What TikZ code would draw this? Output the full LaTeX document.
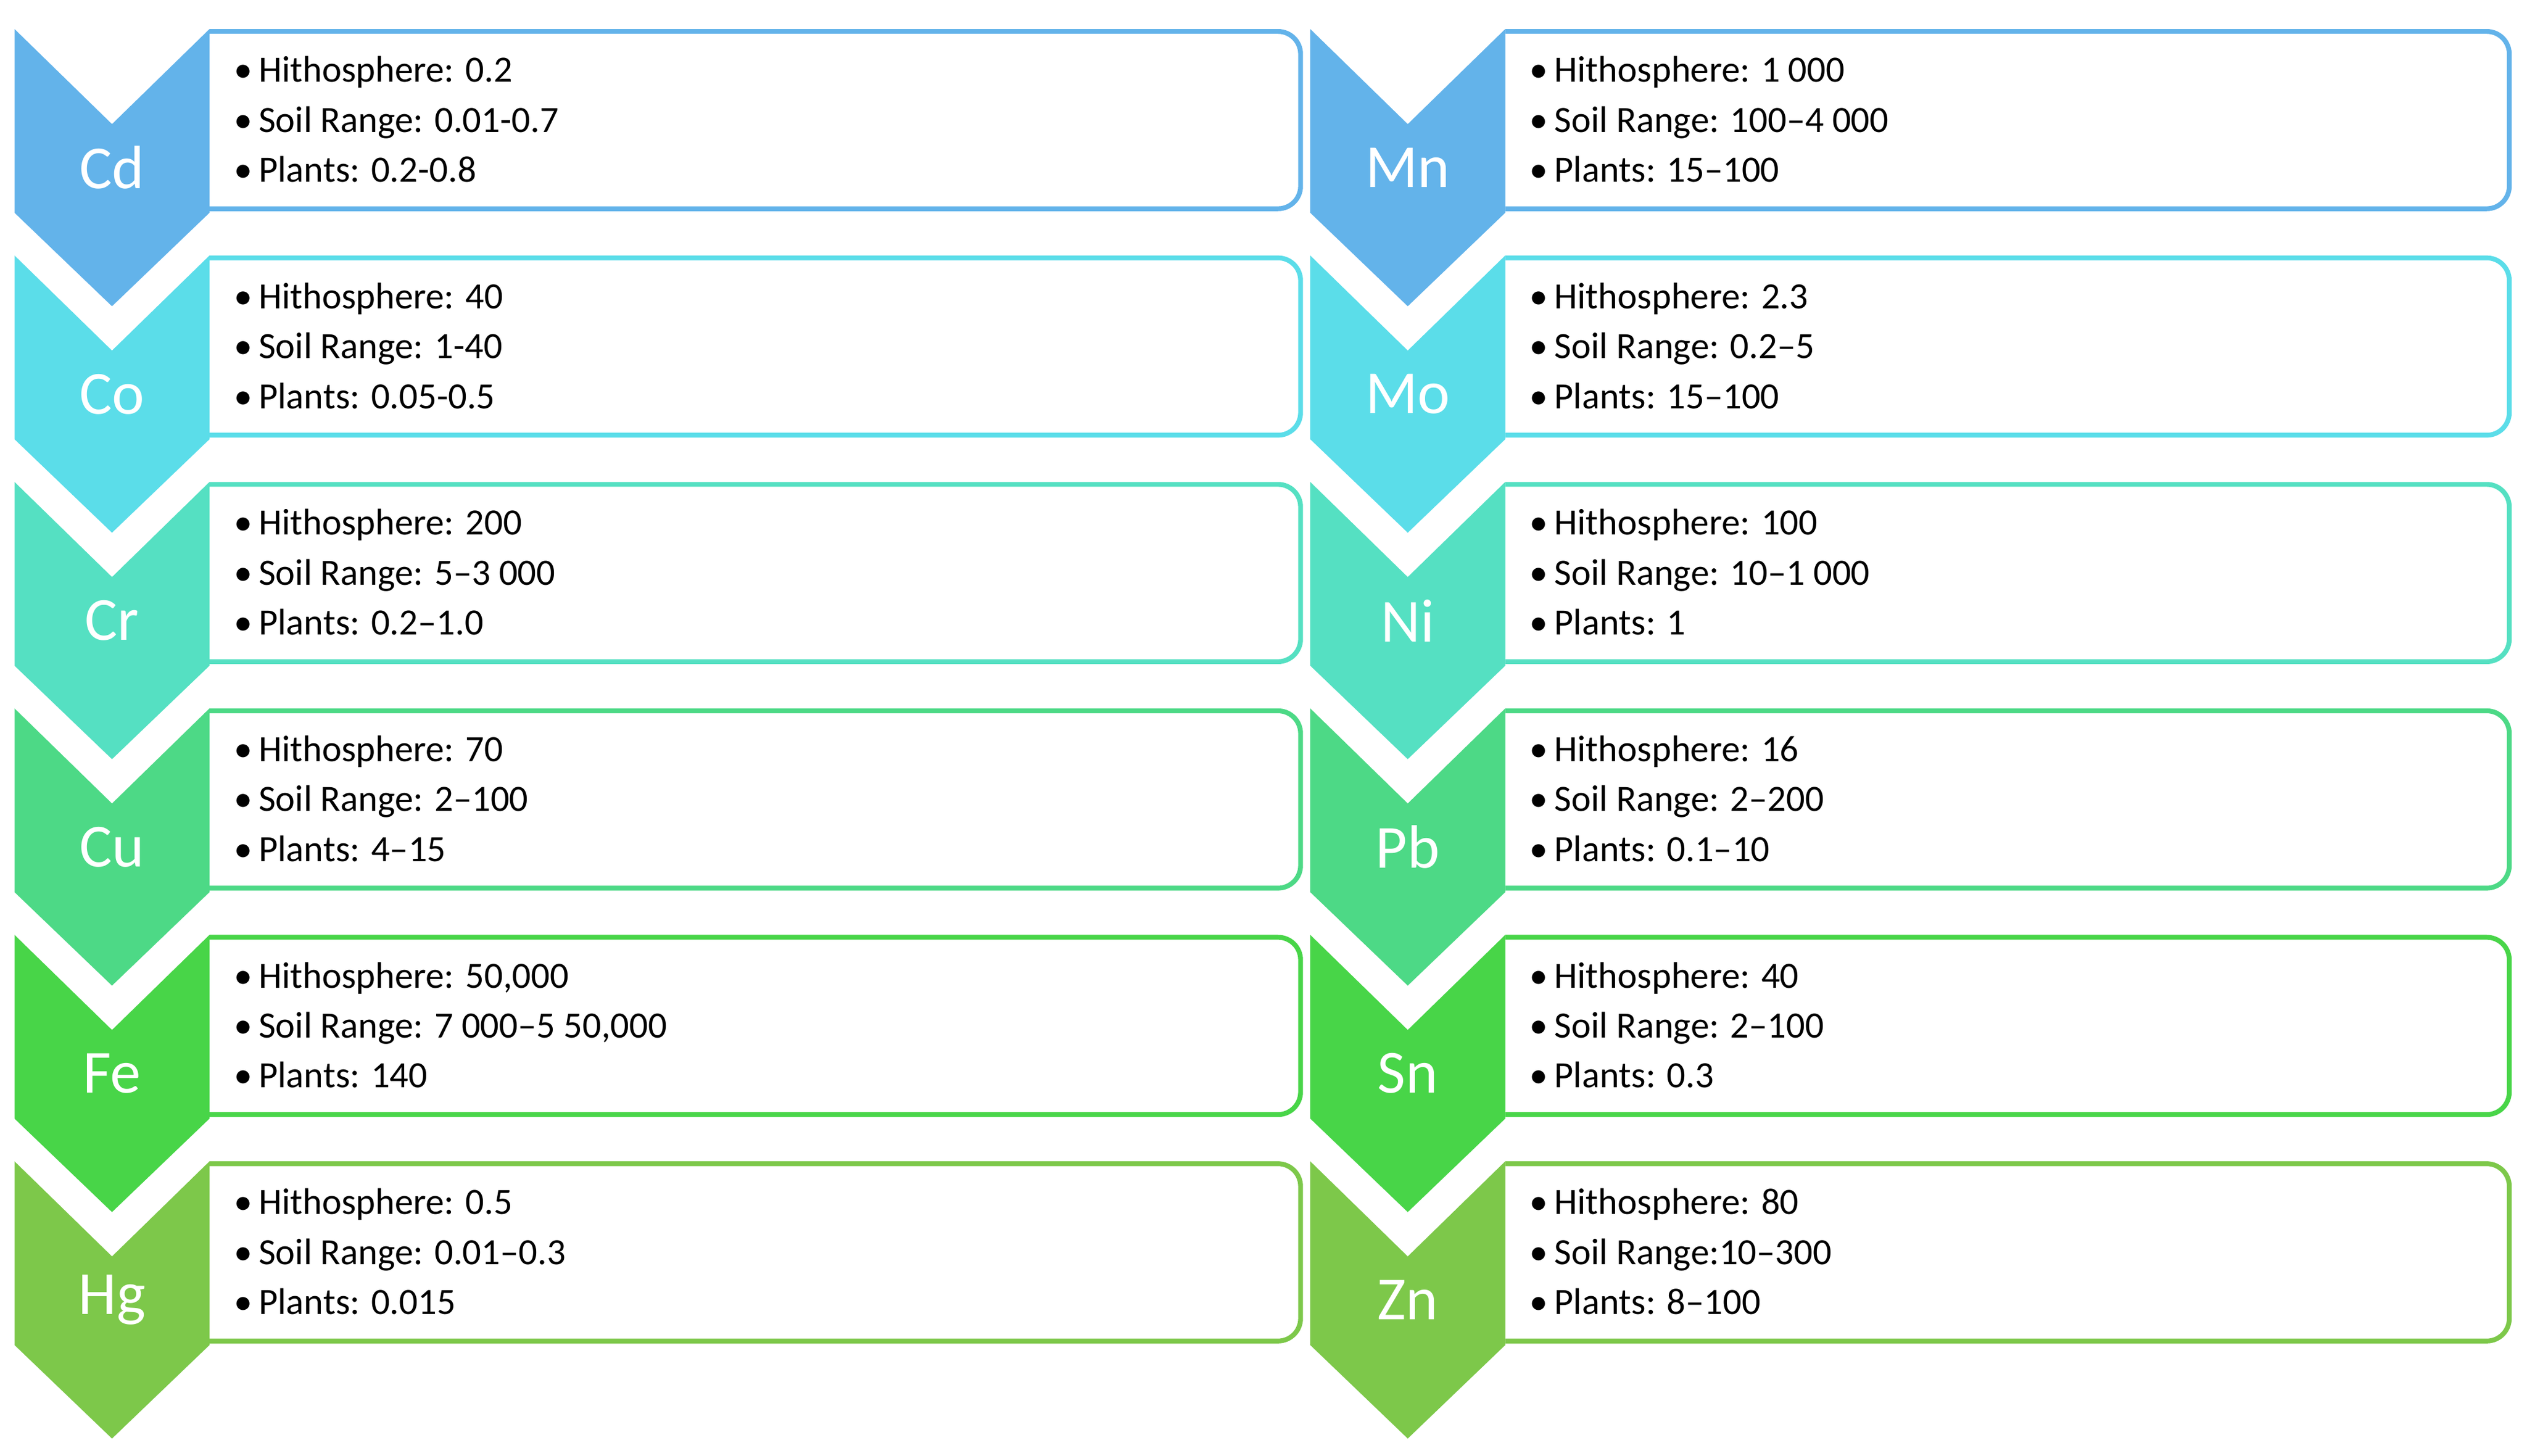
\documentclass[tikz,border=0pt]{standalone}
\usepackage{fontspec}
\setmainfont{Carlito}
\definecolor{c1}{HTML}{63B3EA}
\definecolor{c2}{HTML}{5BDDE9}
\definecolor{c3}{HTML}{55E0C2}
\definecolor{c4}{HTML}{4DD986}
\definecolor{c5}{HTML}{48D548}
\definecolor{c6}{HTML}{7DC84A}
\tikzset{
  elem/.style={text=white,font=\fontsize{38}{40}\selectfont,inner sep=0pt},
  info/.style={anchor=west,inner sep=0pt,font=\fontsize{23}{31}\selectfont,align=left},
  boxline/.style={line width=3pt,rounded corners=14pt}
}
\newcommand{\rowitem}[7]{% x0, xend, T, colour, element, name, three lines
  \draw[boxline,draw=#4,fill=white] (#1+121,#3+1.5) -- (#2,#3+1.5) -- (#2,#3+111.5) -- (#1+121,#3+111.5);
  \fill[#4] (#1,#3) -- (#1+60.5,#3+59) -- (#1+121,#3) -- (#1+121,#3+114) -- (#1+60.5,#3+172) -- (#1,#3+114) -- cycle;
  \node[elem] (#6e) at (#1+60.5,#3+86) {#5};
  \node[info] (#6t) at (#1+136,#3+56) {#7};
}
\begin{document}
\begin{tikzpicture}[x=1pt,y=-1pt]
\useasboundingbox (0,0) rectangle (1568,903);
\def\bl{\textbullet\,}
\rowitem{9}{807}{18}{c1}{Cd}{cd}{\bl Hithosphere: 0.2\\ \bl Soil Range: 0.01-0.7\\ \bl Plants: 0.2-0.8}
\rowitem{9}{807}{158.5}{c2}{Co}{co}{\bl Hithosphere: 40\\ \bl Soil Range: 1-40\\ \bl Plants: 0.05-0.5}
\rowitem{9}{807}{299}{c3}{Cr}{cr}{\bl Hithosphere: 200\\ \bl Soil Range: 5–3 000\\ \bl Plants: 0.2–1.0}
\rowitem{9}{807}{439.5}{c4}{Cu}{cu}{\bl Hithosphere: 70\\ \bl Soil Range: 2–100\\ \bl Plants: 4–15}
\rowitem{9}{807}{580}{c5}{Fe}{fe}{\bl Hithosphere: 50,000\\ \bl Soil Range: 7 000–5 50,000\\ \bl Plants: 140}
\rowitem{9}{807}{720.5}{c6}{Hg}{hg}{\bl Hithosphere: 0.5\\ \bl Soil Range: 0.01–0.3\\ \bl Plants: 0.015}
\rowitem{813}{1557}{18}{c1}{Mn}{mn}{\bl Hithosphere: 1 000\\ \bl Soil Range: 100–4 000\\ \bl Plants: 15–100}
\rowitem{813}{1557}{158.5}{c2}{Mo}{mo}{\bl Hithosphere: 2.3\\ \bl Soil Range: 0.2–5\\ \bl Plants: 15–100}
\rowitem{813}{1557}{299}{c3}{Ni}{ni}{\bl Hithosphere: 100\\ \bl Soil Range: 10–1 000\\ \bl Plants: 1}
\rowitem{813}{1557}{439.5}{c4}{Pb}{pb}{\bl Hithosphere: 16\\ \bl Soil Range: 2–200\\ \bl Plants: 0.1–10}
\rowitem{813}{1557}{580}{c5}{Sn}{sn}{\bl Hithosphere: 40\\ \bl Soil Range: 2–100\\ \bl Plants: 0.3}
\rowitem{813}{1557}{720.5}{c6}{Zn}{zn}{\bl Hithosphere: 80\\ \bl Soil Range:10–300\\ \bl Plants: 8–100}
\end{tikzpicture}
\end{document}
